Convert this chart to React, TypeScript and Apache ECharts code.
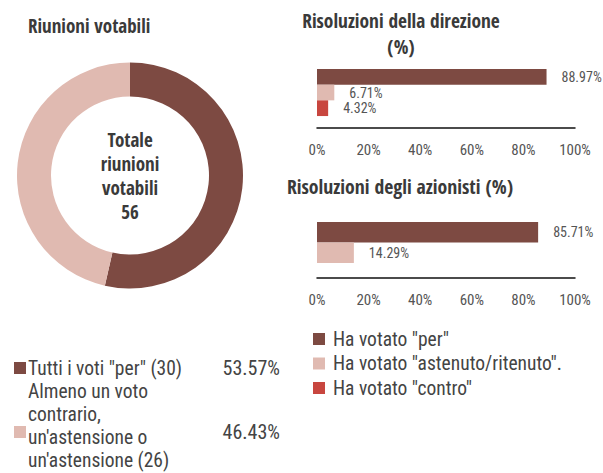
import React, { useEffect, useRef } from "react";
import * as echarts from "echarts";

const FONT = "'Roboto Condensed', 'Open Sans Condensed', sans-serif";
const TFONT = "'Open Sans Condensed', 'Roboto Condensed', sans-serif";

const pieNames = ['Tutti i voti "per" (30)', "Almeno un voto\ncontrario,\nun'astensione o\nun'astensione (26)"];
const pieValues = [30, 26];
const pieColors = ["#7d4a42", "#e0bab1"];
const centerLines = ["Totale", "riunioni", "votabili", "56"];

const voteSeries = ['Ha votato "per"', 'Ha votato "astenuto/ritenuto".', 'Ha votato "contro"'];
const voteColors = ["#7d4a42", "#e0bab1", "#c8463f"];
const direzioneValues = [88.97, 6.71, 4.32];
const azionistiValues = [85.71, 14.29];

const titleLeft = "Riunioni votabili";
const titleDirezione = "Risoluzioni della direzione\n(%)";
const titleAzionisti = "Risoluzioni degli azionisti (%)";

export default function App() {
  const ref = useRef<HTMLDivElement>(null);
  useEffect(() => {
    document.body.style.margin = "0";
    const chart = echarts.init(ref.current!, null, { renderer: "svg" });
    const total = pieValues.reduce((a, b) => a + b, 0);

    const legendGraphics: any[] = [];
    const legendTops = [362, 426];
    pieNames.forEach((n, i) => {
      const cy = legendTops[i] + 6;
      legendGraphics.push({
        type: "rect",
        shape: { x: 14, y: legendTops[i], width: 12, height: 12 },
        style: { fill: pieColors[i] },
      });
      legendGraphics.push({
        type: "text",
        x: 28,
        y: i === 0 ? cy : 426,
        style: {
          text: n,
          font: `19.5px ${FONT}`,
          fill: "#444",
          lineHeight: 22.7,
          textVerticalAlign: "middle",
        },
      });
      legendGraphics.push({
        type: "text",
        x: 280,
        y: cy,
        style: {
          text: ((pieValues[i] / total) * 100).toFixed(2) + "%",
          font: `20px ${FONT}`,
          fill: "#444",
          textAlign: "right",
          textVerticalAlign: "middle",
        },
      });
    });

    const barLabel = {
      show: true,
      position: "right",
      distance: 15,
      formatter: "{c}%",
      color: "#555",
      fontSize: 14,
      fontFamily: FONT,
    };

    const xAxisBase = (gridIndex: number) => ({
      type: "value",
      gridIndex,
      min: 0,
      max: 100,
      interval: 20,
      splitLine: { show: false },
      axisTick: { show: false },
      axisLine: { show: true, lineStyle: { color: "#111", width: 1.5 } },
      axisLabel: {
        formatter: "{value}%",
        color: "#555",
        fontSize: 15,
        fontFamily: FONT,
        margin: 14,
      },
    });

    const yAxisBase = (gridIndex: number) => ({
      type: "category",
      gridIndex,
      data: [""],
      inverse: true,
      axisLine: { show: false },
      axisTick: { show: false },
      axisLabel: { show: false },
    });

    const series: any[] = [
      {
        type: "pie",
        radius: [79, 113],
        center: [130, 175.5],
        startAngle: 90,
        clockwise: true,
        label: { show: false },
        labelLine: { show: false },
        emphasis: { disabled: true },
        data: pieNames.map((n, i) => ({ name: n, value: pieValues[i], itemStyle: { color: pieColors[i] } })),
      },
    ];
    direzioneValues.forEach((v, i) => {
      series.push({
        type: "bar",
        name: voteSeries[i],
        xAxisIndex: 0,
        yAxisIndex: 0,
        barWidth: 15.7,
        barGap: 0,
        itemStyle: { color: voteColors[i] },
        label: barLabel,
        data: [v],
      });
    });
    azionistiValues.forEach((v, i) => {
      series.push({
        type: "bar",
        name: voteSeries[i],
        xAxisIndex: 1,
        yAxisIndex: 1,
        barWidth: 20.5,
        barGap: 0,
        itemStyle: { color: voteColors[i] },
        label: barLabel,
        data: [v],
      });
    });

    const tStyle = { fontSize: 19, fontWeight: "bold", color: "#3a3a3a", fontFamily: TFONT };
    chart.setOption({
      animation: false,
      textStyle: { fontFamily: FONT },
      title: [
        { text: titleLeft, left: 28, top: 15, padding: 0, textStyle: { ...tStyle, lineHeight: 22 } },
        { text: titleDirezione, left: 401, top: 7, padding: 0, textAlign: "center", textStyle: { ...tStyle, fontSize: 19.4, lineHeight: 26 } },
        { text: titleAzionisti, left: 400, top: 175, padding: 0, textAlign: "center", textStyle: { ...tStyle, fontSize: 19.7, lineHeight: 22 } },
      ],
      legend: {
        data: voteSeries,
        orient: "vertical",
        left: 313,
        top: 329,
        padding: 0,
        itemWidth: 12,
        itemHeight: 12,
        itemGap: 4.5,
        icon: "rect",
        textStyle: { fontSize: 19.5, color: "#444", fontFamily: FONT, lineHeight: 18, padding: [0, 0, 0, 3] },
        selectedMode: false,
      },
      grid: [
        { left: 317, right: 28, top: 57, height: 71 },
        { left: 317, right: 28, top: 207, height: 71 },
      ],
      xAxis: [xAxisBase(0), xAxisBase(1)],
      yAxis: [yAxisBase(0), yAxisBase(1)],
      series,
      graphic: [
        {
          type: "text",
          x: 130,
          y: 176,
          style: {
            text: centerLines.join("\n"),
            font: `bold 19px ${TFONT}`,
            fill: "#3a3a3a",
            lineHeight: 24,
            textAlign: "center",
            textVerticalAlign: "middle",
          },
        },
        ...legendGraphics,
      ],
    });
    return () => chart.dispose();
  }, []);
  return <div ref={ref} style={{ width: 603, height: 473 }} />;
}
